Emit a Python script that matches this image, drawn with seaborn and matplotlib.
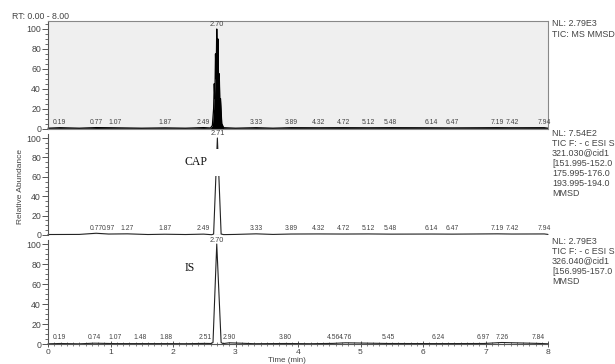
import matplotlib
matplotlib.use("Agg")
import matplotlib.pyplot as plt
import seaborn as sns
import pandas as pd
from matplotlib.ticker import MultipleLocator
from matplotlib.patches import Rectangle

sns.set_theme(style="white")
plt.rcParams['font.family'] = ['Liberation Sans', 'DejaVu Sans']

# ---- data ----
tic_time = [0.00, 0.19, 0.50, 0.77, 1.07, 1.50, 1.87, 2.20, 2.49, 2.60, 2.63, 2.65, 2.66, 2.67,
            2.68, 2.69, 2.70, 2.71, 2.72, 2.73, 2.74, 2.75, 2.76, 2.78, 2.81, 3.00, 3.33, 3.60,
            3.89, 4.32, 4.72, 5.12, 5.48, 6.14, 6.47, 7.19, 7.42, 7.94, 8.00]
tic_int = [0.3, 0.8, 0.3, 0.9, 0.7, 0.3, 0.6, 0.3, 0.9, 0.5, 3, 20, 45, 30, 75, 50, 100, 60, 90,
           40, 55, 25, 30, 5, 0.8, 0.3, 0.8, 0.3, 0.8, 0.7, 0.8, 0.7, 0.8, 0.7, 0.6, 0.8, 0.7,
           0.8, 0.3]

cap_time = [0.00, 0.50, 0.77, 0.97, 1.27, 1.60, 1.87, 2.20, 2.49, 2.62, 2.65, 2.71, 2.77,
            2.81, 3.00, 3.33, 3.60, 3.89, 4.32, 4.72, 5.12, 5.48, 6.14, 6.47, 7.19, 7.42, 7.94, 8.00]
cap_int = [0.5, 0.6, 1.8, 1.0, 1.2, 0.5, 0.8, 0.5, 0.9, 0.3, 1.0, 100, 1.0, 0.4, 0.6, 1.2,
           0.6, 1.0, 1.1, 1.0, 1.1, 0.9, 1.0, 0.9, 1.2, 1.0, 1.1, 0.6]

is_time = [0.00, 0.19, 0.50, 0.74, 1.07, 1.48, 1.88, 2.20, 2.51, 2.61, 2.64, 2.70, 2.77,
           2.80, 2.90, 3.30, 3.80, 4.20, 4.56, 4.76, 5.45, 6.24, 6.97, 7.26, 7.84, 8.00]
is_int = [0.2, 0.5, 0.2, 0.8, 0.4, 0.4, 0.4, 0.3, 0.6, 0.5, 1.5, 100, 1.5, 0.4, 1.2, 0.3, 0.5,
          0.3, 0.6, 1.2, 0.5, 0.4, 0.5, 1.5, 0.6, 0.2]

tic_labels = [0.19, 0.77, 1.07, 1.87, 2.49, 3.33, 3.89, 4.32, 4.72, 5.12, 5.48, 6.14, 6.47, 7.19, 7.42, 7.94]
cap_labels = [0.77, 0.97, 1.27, 1.87, 2.49, 3.33, 3.89, 4.32, 4.72, 5.12, 5.48, 6.14, 6.47, 7.19, 7.42, 7.94]
is_labels = [0.19, 0.74, 1.07, 1.48, 1.88, 2.51, 2.90, 3.80, 4.56, 4.76, 5.45, 6.24, 6.97, 7.26, 7.84]

tic_apex, cap_apex, is_apex = "2.70", "2.71", "2.70"
tic_apex_t, cap_apex_t, is_apex_t = 2.70, 2.71, 2.70

tic_info = ["NL: 2.79E3", "TIC: MS MMSD"]
cap_info = ["NL: 7.54E2", "TIC F: - c ESI S", "321.030@cid1", "[151.995-152.0",
            "175.995-176.0", "193.995-194.0", "MMSD"]
is_info = ["NL: 2.79E3", "TIC F: - c ESI S", "326.040@cid1", "[156.995-157.0", "MMSD"]

W, H = 615, 364
fig = plt.figure(figsize=(W / 100, H / 100), dpi=100)
fig.patch.set_facecolor("white")

L = 48 / W
Wd = 500 / W

def rect(zero_px, hundred_px, ymax):
    px_per = (zero_px - hundred_px) / 100.0
    top = zero_px - ymax * px_per
    return [L, 1 - zero_px / H, Wd, (zero_px - top) / H]

ax1 = fig.add_axes(rect(128.5, 29, 108.5))
ax2 = fig.add_axes(rect(235, 138, 104))
ax3 = fig.add_axes(rect(344, 244, 104))

tc = "#444444"
lab_fs = 4.9

def style(ax, frame=False, xaxis=False):
    ax.set_xlim(0, 8)
    for s in ["top", "right", "bottom", "left"]:
        ax.spines[s].set_visible(False)
    ax.spines["left"].set_visible(True)
    ax.spines["left"].set_color("#555555")
    ax.spines["left"].set_linewidth(0.8)
    ax.set_yticks([0, 20, 40, 60, 80, 100])
    ax.yaxis.set_minor_locator(MultipleLocator(5))
    ax.tick_params(axis="y", which="major", left=True, length=4, width=0.7, color="#555555",
                   labelsize=6.3, labelcolor=tc, pad=1)
    ax.tick_params(axis="y", which="minor", left=True, length=2, width=0.6, color="#555555")
    ax.set_xlabel("")
    ax.set_ylabel("")
    if frame:
        ax.set_facecolor("#efefef")
        for s in ["top", "right", "bottom"]:
            ax.spines[s].set_visible(True)
            ax.spines[s].set_color("#888888")
            ax.spines[s].set_linewidth(0.8)
    else:
        ax.set_facecolor("none")
    if xaxis:
        ax.spines["bottom"].set_visible(True)
        ax.spines["bottom"].set_color("#555555")
        ax.spines["bottom"].set_linewidth(0.8)
        ax.set_xticks(range(0, 9))
        ax.xaxis.set_minor_locator(MultipleLocator(0.1))
        ax.tick_params(axis="x", which="major", bottom=True, top=False, length=5, width=0.7,
                       color="#555555", labelsize=6.1, labelcolor=tc, pad=1, direction="inout")
        ax.tick_params(axis="x", which="minor", bottom=True, length=2.5, width=0.5,
                       color="#555555", direction="inout")
    else:
        ax.set_xticks([])
        ax.tick_params(axis="x", which="both", bottom=False, labelbottom=False)

df1 = pd.DataFrame({"t": tic_time, "v": tic_int})
df2 = pd.DataFrame({"t": cap_time, "v": cap_int})
df3 = pd.DataFrame({"t": is_time, "v": is_int})

sns.lineplot(data=df1, x="t", y="v", ax=ax1, color="black", linewidth=0.9, clip_on=False)
ax1.fill_between(tic_time, tic_int, 0, color="black", linewidth=0)
sns.lineplot(data=df2, x="t", y="v", ax=ax2, color="#222222", linewidth=0.8, clip_on=False)
sns.lineplot(data=df3, x="t", y="v", ax=ax3, color="#222222", linewidth=0.8, clip_on=False)

ax1.set_ylim(0, 108.5)
ax2.set_ylim(0, 104)
ax3.set_ylim(0, 104)
style(ax1, frame=True)
style(ax2)
style(ax3, xaxis=True)
ax2.axhline(0, color="#555555", linewidth=0.8)

for ax, labs in [(ax1, tic_labels), (ax2, cap_labels), (ax3, is_labels)]:
    for x in labs:
        ax.text(x, 3, f"{x:.2f}", ha="center", va="bottom", fontsize=lab_fs, color=tc)

ax1.text(tic_apex_t, 101, tic_apex, ha="center", va="bottom", fontsize=5.3, color=tc)
ax2.text(cap_apex_t, 101.5, cap_apex, ha="center", va="bottom", fontsize=5.3, color=tc,
         clip_on=False)
ax3.text(is_apex_t, 100.5, is_apex, ha="center", va="bottom", fontsize=5.3, color=tc,
         clip_on=False)

serif = ["Liberation Serif", "DejaVu Serif"]
# white label boxes (annotation backgrounds)
ax2.add_patch(Rectangle((2.0, 61), 0.79, 28, facecolor="white", edgecolor="none", zorder=4))
ax3.add_patch(Rectangle((1.98, 62), 0.65, 27, facecolor="white", edgecolor="none", zorder=4))
ax2.text(2.37, 75, "CAP", ha="center", va="center", fontsize=8.5, family=serif,
         color="#111111", zorder=5)
ax3.text(2.26, 76, "IS", ha="center", va="center", fontsize=8.5, family=serif,
         color="#111111", zorder=5)

def info(lines, y0_px):
    for i, s in enumerate(lines):
        fig.text(552 / W, 1 - (y0_px + i * 10.1) / H, s, ha="left", va="center",
                 fontsize=6.4, color=tc)

info(tic_info, 24)
info(cap_info, 133)
info(is_info, 241)

fig.text(12 / W, 1 - 16.5 / H, "RT: 0.00 - 8.00", ha="left", va="center", fontsize=6.3, color=tc)
fig.text(21 / W, 1 - 187 / H, "Relative Abundance", ha="center", va="center", rotation=90,
         fontsize=6, color=tc)
fig.text(287 / W, 1 - 360 / H, "Time (min)", ha="center", va="center", fontsize=5.8, color=tc)

fig.savefig("out.png", dpi=100, facecolor="white")
